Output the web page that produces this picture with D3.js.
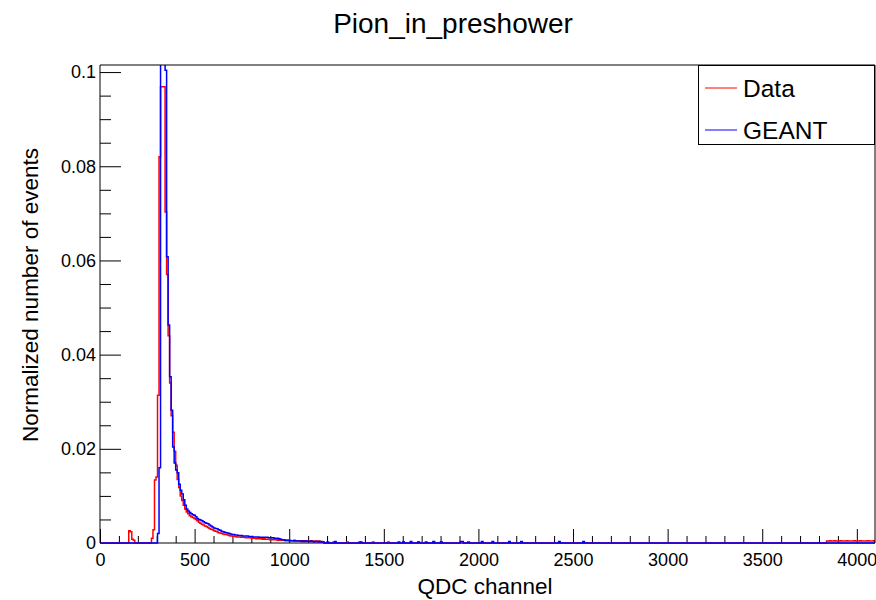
<!DOCTYPE html>
<html><head><meta charset="utf-8">
<script src="https://cdn.jsdelivr.net/npm/d3@7"></script>
<style>
body{margin:0;background:#fff}
svg{display:block}
text{font-family:"Liberation Sans", Arial, Helvetica, sans-serif;fill:#000}
</style>
</head><body>
<svg id="c" width="876" height="600"></svg>
<script>
// ---------- data ----------
const chartTitle = "Pion_in_preshower";
const xTitle = "QDC channel";
const yTitle = "Normalized number of events";
const seriesNames = ["Data", "GEANT"];
const seriesColors = ["#ff0000", "#0000ff"];
const xMax = 4096;
const yMax = 0.1015;
const binWidth = 8;          // channels per bin
const firstBinChannel = 144; // channel where the value arrays start

// Data (red), consecutive 8-channel bins from channel 144
const dataValues = [
  0, 0.0026, 0.0024, 0.0008, 0.0006, 0, 0, 0, 0, 0,
  0, 0, 0, 0, 0, 0, 0.0010, 0.0028, 0.0134, 0.0140,
  0.0314, 0.0820, 0.0969, 0.0969, 0.0969, 0.0703, 0.0570, 0.0440, 0.0340, 0.0270,
  0.0235, 0.0195, 0.0165, 0.0135, 0.0118, 0.0100, 0.0090, 0.0080, 0.0072, 0.0066,
  0.0062, 0.0058, 0.0056, 0.0054, 0.0052, 0.0050, 0.0047, 0.0044, 0.0042, 0.0040,
  0.0038, 0.0036, 0.0035, 0.0033, 0.0031, 0.0029, 0.0028, 0.0026, 0.0025, 0.0024,
  0.0022, 0.0021, 0.0020, 0.0019, 0.0018, 0.0018, 0.0017, 0.0016, 0.0015, 0.0015,
  0.0014, 0.0014, 0.0013, 0.0013, 0.0013, 0.0012, 0.0012, 0.0012, 0.0011, 0.0011,
  0.0011, 0.0011, 0.0010, 0.0010, 0.0010, 0.0009, 0.0010, 0.0009, 0.0009, 0.0008,
  0.0009, 0.0008, 0.0008, 0.0008, 0.0007, 0.0008, 0.0007, 0.0007, 0.0007, 0.0006,
  0.0007, 0.0006, 0.0006, 0.0006, 0.0005, 0.0006, 0.0005, 0.0006, 0.0005, 0.0005,
  0.0006, 0.0005, 0.0005, 0.0005, 0.0004, 0.0005, 0.0005, 0.0004, 0.0005, 0.0004,
  0.0004, 0.0005, 0.0004, 0.0004, 0.0004, 0.0003, 0.0004, 0.0003, 0.0003, 0.0002
];
// GEANT (blue), consecutive 8-channel bins from channel 144
const geantValues = [
  0, 0, 0, 0, 0, 0, 0, 0, 0, 0,
  0, 0, 0, 0, 0, 0, 0, 0, 0, 0,
  0.0020, 0.0160, 0.1100, 0.1100, 0.1100, 0.1004, 0.0608, 0.0463, 0.0353, 0.0282,
  0.0204, 0.0170, 0.0155, 0.0149, 0.0125, 0.0112, 0.0104, 0.0092, 0.0080, 0.0072,
  0.0068, 0.0065, 0.0062, 0.0060, 0.0059, 0.0056, 0.0052, 0.0050, 0.0049, 0.0047,
  0.0045, 0.0043, 0.0042, 0.0041, 0.0038, 0.0036, 0.0034, 0.0032, 0.0031, 0.0030,
  0.0028, 0.0027, 0.0025, 0.0024, 0.0023, 0.0022, 0.0021, 0.0020, 0.0019, 0.0018,
  0.0018, 0.0017, 0.0017, 0.0016, 0.0016, 0.0016, 0.0015, 0.0015, 0.0015, 0.0015,
  0.0014, 0.0014, 0.0014, 0.0013, 0.0013, 0.0013, 0.0013, 0.0012, 0.0012, 0.0012,
  0.0012, 0.0012, 0.0012, 0.0011, 0.0011, 0.0011, 0.0011, 0.0010, 0.0010, 0.0010,
  0.0009, 0.0008, 0.0007, 0.0007, 0.0006, 0.0006, 0.0006, 0.0005, 0.0005, 0.0005,
  0.0004, 0.0005, 0.0004, 0.0004, 0.0004, 0.0003, 0.0004, 0.0003, 0.0004, 0.0003,
  0.0003, 0.0004, 0.0003, 0.0002, 0.0003, 0.0003, 0.0002, 0.0003, 0.0002, 0.0002
];
// isolated small bins further out: [channel, value]
const dataTail = [
  [1176, 0.0002], [1232, 0.0002], [1304, 0.0002], [1368, 0.0002], [1440, 0.0002],
  [1520, 0.0002], [1600, 0.0002], [1680, 0.0002], [1760, 0.0002], [1800, 0.0002]
];
const geantTail = [
  [1200, 0.0002], [1240, 0.0003], [1376, 0.0002], [1576, 0.0002], [1600, 0.0002],
  [1640, 0.0003], [1680, 0.0002], [1720, 0.0002], [1760, 0.0003], [1800, 0.0002],
  [1904, 0.0003], [1912, 0.0003], [1944, 0.0002], [2016, 0.0003], [2072, 0.0003],
  [2160, 0.0003], [2224, 0.0003], [2424, 0.0003], [2552, 0.0003]
];
// Data bins at the top end of the range, from channel 3840
const dataEndStart = 3840;
const dataEndValues = [
  0.0004, 0.0004, 0.0005, 0.0004, 0.0004, 0.0005, 0.0004, 0.0004,
  0.0004, 0.0005, 0.0004, 0.0004, 0.0004, 0.0005, 0.0004, 0.0004,
  0.0004, 0.0004, 0.0005, 0.0004, 0.0004, 0.0004, 0.0005, 0.0004,
  0.0004, 0.0004, 0.0004, 0.0005, 0.0004, 0.0004, 0.0004, 0.0005
];
const xMajorTicks = [0, 500, 1000, 1500, 2000, 2500, 3000, 3500, 4000];
const xTickLabels = ["0", "500", "1000", "1500", "2000", "2500", "3000", "3500", "4000"];
const yMajorTicks = [0, 0.02, 0.04, 0.06, 0.08, 0.1];
const yTickLabels = ["0", "0.02", "0.04", "0.06", "0.08", "0.1"];
const xMinorStep = 100;
const yMinorStep = 0.005;

// ---------- layout ----------
const W = 876, H = 600;
const P = {left: 100, right: 875, top: 65, bottom: 543};
const FONT = '"Liberation Sans", Arial, Helvetica, sans-serif';

const svg = d3.select("#c");
svg.append("rect").attr("width", W).attr("height", H).attr("fill", "#fff");

const x = d3.scaleLinear().domain([0, xMax]).range([P.left, P.right]);
const y = d3.scaleLinear().domain([0, yMax]).range([P.bottom, P.top]);

function buildBins(values, tail, endStart, endValues) {
  const n = xMax / binWidth;
  const arr = new Array(n).fill(0);
  const off = firstBinChannel / binWidth;
  values.forEach((v, i) => { arr[off + i] = v; });
  tail.forEach(([c, v]) => { arr[Math.floor(c / binWidth)] = v; });
  if (endValues) endValues.forEach((v, i) => { arr[endStart / binWidth + i] = v; });
  return arr;
}
function stepPoints(arr) {
  const pts = [[0, 0]];
  arr.forEach((v, i) => { pts.push([i * binWidth, v]); pts.push([(i + 1) * binWidth, v]); });
  pts.push([xMax, 0]);
  return pts;
}

const series = [
  buildBins(dataValues, dataTail, dataEndStart, dataEndValues),
  buildBins(geantValues, geantTail, null, null)
];

// minor ticks
const xMinor = d3.range(0, xMax + 1, xMinorStep).filter(v => v % 500 !== 0);
const yMinor = d3.range(0, yMax, yMinorStep).map(v => +v.toFixed(4)).filter(v => Math.abs(v / 0.02 - Math.round(v / 0.02)) > 1e-6);

function styleAxis(g, size) {
  g.select(".domain").remove();
  g.selectAll("line").attr("stroke", "#000").attr("stroke-width", 1);
  g.selectAll("text").attr("font-family", FONT).attr("font-size", size).attr("fill", "#000");
}

// bottom frame line (under histograms)
svg.append("line").attr("x1", P.left).attr("x2", P.right).attr("y1", P.bottom).attr("y2", P.bottom)
  .attr("stroke", "#000").attr("stroke-width", 1);

// x axis
svg.append("g").attr("transform", `translate(0,${P.bottom})`)
  .call(d3.axisBottom(x).tickValues(xMinor).tickSizeInner(-7).tickSizeOuter(0).tickFormat(""))
  .call(g => styleAxis(g, 18));
svg.append("g").attr("transform", `translate(0,${P.bottom})`)
  .call(d3.axisBottom(x).tickValues(xMajorTicks).tickSizeInner(-14).tickSizeOuter(0).tickPadding(10)
        .tickFormat((d, i) => xTickLabels[i]))
  .call(g => styleAxis(g, 18));

// y axis
svg.append("g").attr("transform", `translate(${P.left},0)`)
  .call(d3.axisLeft(y).tickValues(yMinor).tickSizeInner(-11).tickSizeOuter(0).tickFormat(""))
  .call(g => styleAxis(g, 18));
svg.append("g").attr("transform", `translate(${P.left},0)`)
  .call(d3.axisLeft(y).tickValues(yMajorTicks).tickSizeInner(-21).tickSizeOuter(0).tickPadding(4)
        .tickFormat((d, i) => yTickLabels[i]))
  .call(g => styleAxis(g, 18));

// histograms
svg.append("clipPath").attr("id", "clip").append("rect")
  .attr("x", P.left).attr("y", P.top).attr("width", P.right - P.left).attr("height", P.bottom - P.top + 2);
const line = d3.line().x(d => x(d[0])).y(d => y(d[1]));
const hg = svg.append("g").attr("clip-path", "url(#clip)");
series.forEach((arr, i) => {
  hg.append("path").attr("d", line(stepPoints(arr)))
    .attr("fill", "none").attr("stroke", seriesColors[i]).attr("stroke-width", 1.5)
    .attr("stroke-linejoin", "miter");
});

// frame left/top/right
svg.append("path")
  .attr("d", `M${P.left},${P.bottom}V${P.top}H${P.right}V${P.bottom}`)
  .attr("fill", "none").attr("stroke", "#000").attr("stroke-width", 1);

// title
svg.append("text").attr("x", 453).attr("y", 33).attr("text-anchor", "middle")
  .attr("font-size", 28).text(chartTitle);
// axis titles
svg.append("text").attr("x", 485).attr("y", 594).attr("text-anchor", "middle")
  .attr("font-size", 22.5).text(xTitle);
svg.append("text").attr("transform", "translate(38,295) rotate(-90)").attr("text-anchor", "middle")
  .attr("font-size", 22.5).text(yTitle);

// legend
const lg = svg.append("g");
lg.append("rect").attr("x", 698.5).attr("y", 65.5).attr("width", 176).attr("height", 79)
  .attr("fill", "#fff").attr("stroke", "#000").attr("stroke-width", 1);
const legendY = [88, 130];
seriesNames.forEach((name, i) => {
  lg.append("line").attr("x1", 705).attr("x2", 737).attr("y1", legendY[i]).attr("y2", legendY[i])
    .attr("stroke", seriesColors[i]).attr("stroke-width", 1);
  lg.append("text").attr("x", 743).attr("y", legendY[i]).attr("dy", "0.36em")
    .attr("font-size", 24.5).text(name);
});
</script>
</body></html>
